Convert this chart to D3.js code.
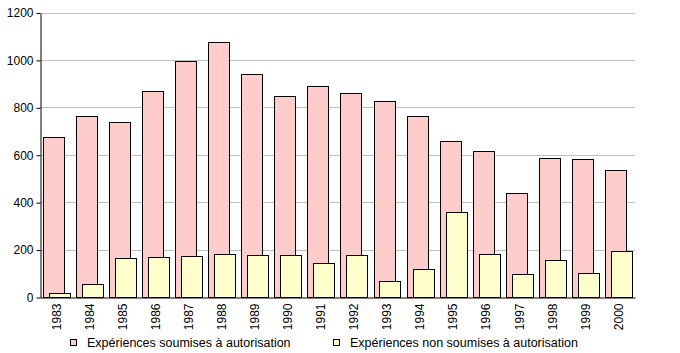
<!DOCTYPE html>
<html>
<head>
<meta charset="utf-8">
<script src="https://cdn.jsdelivr.net/npm/d3@7"></script>
<style>
  body { margin: 0; background: #fff; }
  text { font-family: "Liberation Sans", Arial, sans-serif; font-size: 12px; fill: #000; }
  .legend-label { font-size: 12.5px; }
</style>
</head>
<body>
<div id="container"></div>
<script>
/* DATA */
const years = ["1983", "1984", "1985", "1986", "1987", "1988", "1989", "1990", "1991",
  "1992", "1993", "1994", "1995", "1996", "1997", "1998", "1999", "2000"];
const soumises = [673, 762, 737, 867, 994, 1074, 939, 846, 889, 859, 827, 762, 657, 614, 437, 585, 581, 534];
const nonSoumises = [16, 54, 163, 167, 172, 180, 176, 176, 142, 176, 66, 117, 357, 180, 96, 155, 100, 193];
const yTicks = [0, 200, 400, 600, 800, 1000, 1200];
const seriesNames = ["Expériences soumises à autorisation", "Expériences non soumises à autorisation"];
const seriesColors = ["#ffcccc", "#ffffcc"];

/* CONSTANTS */
const width = 680, height = 353;
const margin = { top: 12.5, left: 40, right: 45, bottom: 56 };

const svg = d3.select("#container")
  .append("svg")
  .attr("width", width)
  .attr("height", height);

// scales
const xScale = d3.scaleBand()
  .domain(years)
  .range([margin.left, width - margin.right])
  .paddingInner(0.18)
  .paddingOuter(0.09);

const yScale = d3.scaleLinear()
  .domain([0, 1200])
  .range([height - margin.bottom, margin.top]);

const bw = xScale.bandwidth();
const barW = bw * 0.78;

// gridlines
svg.append("g")
  .selectAll("line")
  .data(yTicks.filter(d => d > 0))
  .join("line")
  .attr("x1", margin.left)
  .attr("x2", width - margin.right)
  .attr("y1", d => Math.round(yScale(d)) + 0.5)
  .attr("y2", d => Math.round(yScale(d)) + 0.5)
  .attr("stroke", "#c0c0c0");

// bars - pink behind, yellow in front
const rows = years.map((y, i) => ({ year: y, a: soumises[i], b: nonSoumises[i] }));

svg.append("g")
  .selectAll("rect")
  .data(rows)
  .join("rect")
  .attr("x", d => Math.round(xScale(d.year)) + 0.5)
  .attr("y", d => Math.round(yScale(d.a)) + 0.5)
  .attr("width", Math.round(barW))
  .attr("height", d => Math.round(yScale(0)) - Math.round(yScale(d.a)))
  .attr("fill", seriesColors[0])
  .attr("stroke", "#000");

svg.append("g")
  .selectAll("rect")
  .data(rows)
  .join("rect")
  .attr("x", d => Math.round(xScale(d.year) + bw - barW) + 0.5)
  .attr("y", d => Math.round(yScale(d.b)) + 0.5)
  .attr("width", Math.round(barW))
  .attr("height", d => Math.round(yScale(0)) - Math.round(yScale(d.b)))
  .attr("fill", seriesColors[1])
  .attr("stroke", "#000");

// y axis
const yAxis = svg.append("g")
  .attr("transform", `translate(${margin.left + 0.5},0.5)`)
  .call(d3.axisLeft(yScale).tickValues(yTicks).tickFormat(d3.format("d"))
    .tickSize(4).tickPadding(3).tickSizeOuter(0));
yAxis.select(".domain").attr("stroke", "#000");
yAxis.selectAll(".tick line").attr("stroke", "#000");
yAxis.attr("font-family", null).attr("font-size", null);

// x axis
const xAxis = svg.append("g")
  .attr("transform", `translate(0,${Math.round(yScale(0)) + 0.5})`)
  .call(d3.axisBottom(xScale).tickSize(0).tickSizeOuter(0));
xAxis.select(".domain").attr("stroke", "#000");
xAxis.selectAll("text")
  .attr("transform", "rotate(-90)")
  .attr("text-anchor", "end")
  .attr("x", -6)
  .attr("y", 0)
  .attr("dy", "0.35em");
xAxis.attr("font-family", null).attr("font-size", null);

// legend
const legendX = [70, 333];
const legend = svg.append("g")
  .selectAll("g")
  .data(seriesNames)
  .join("g")
  .attr("transform", (_, i) => `translate(${legendX[i]},339)`);

legend.append("rect")
  .attr("x", 0.5)
  .attr("y", 0.5)
  .attr("width", 6)
  .attr("height", 6)
  .attr("fill", (_, i) => seriesColors[i])
  .attr("stroke", "#000");

legend.append("text")
  .attr("class", "legend-label")
  .attr("x", 17)
  .attr("y", 8)
  .text(d => d);
</script>
</body>
</html>
